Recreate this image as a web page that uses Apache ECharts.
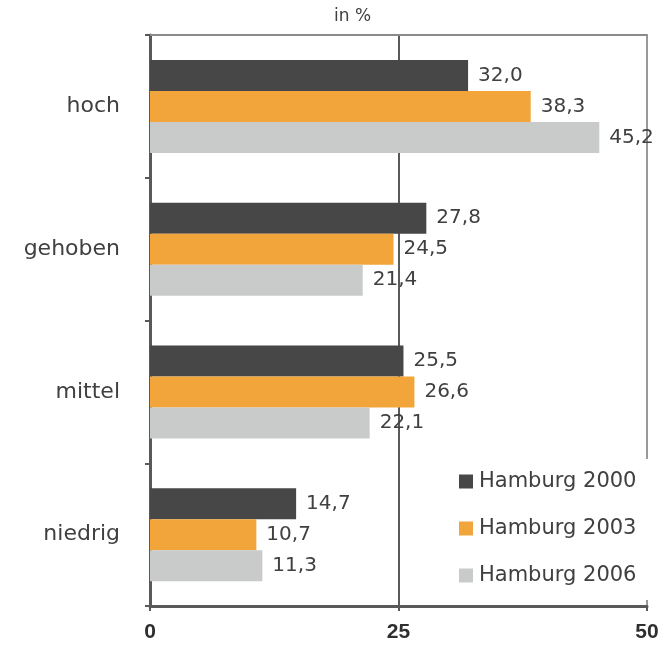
<!DOCTYPE html>
<html><head><meta charset="utf-8">
<script src="https://cdn.jsdelivr.net/npm/echarts@6/dist/echarts.min.js"></script>
<style>html,body{margin:0;padding:0;background:#fff}#c{width:671px;height:646px}</style>
</head><body><div id="c"></div>
<script>
const categories = ['hoch', 'gehoben', 'mittel', 'niedrig'];
const seriesNames = ['Hamburg 2000', 'Hamburg 2003', 'Hamburg 2006'];
const hamburg2000 = [32.0, 27.8, 25.5, 14.7];
const hamburg2003 = [38.3, 24.5, 26.6, 10.7];
const hamburg2006 = [45.2, 21.4, 22.1, 11.3];
const xTicks = [0, 25, 50];
const unitLabel = 'in %';

const colors = ['#464746', '#f1a53b', '#c9cbcb'];
const fmt = v => v.toFixed(1).replace('.', ',');
const chart = echarts.init(document.getElementById('c'));
const mk = (name, data, i) => ({
  name, type: 'bar', data, barWidth: 31, barGap: '0%',
  itemStyle: { color: colors[i] },
  label: { show: true, position: 'right', distance: 10, color: '#404040',
    fontFamily: 'DejaVu Sans', fontSize: 20, formatter: p => fmt(p.value) }
});
chart.setOption({
  animation: false,
  textStyle: { fontFamily: 'DejaVu Sans' },
  grid: { left: 150, right: 24, top: 35, bottom: 40, containLabel: false },
  graphic: [{ type: 'text', left: 334, top: 8,
    style: { text: unitLabel, fontFamily: 'DejaVu Sans', fontSize: 17, fill: '#404040' } }],
  legend: {
    orient: 'vertical', left: 445, top: 459, backgroundColor: '#fff',
    padding: [12, 14, 14, 14], itemGap: 26, itemWidth: 14, itemHeight: 14, icon: 'rect',
    textStyle: { fontFamily: 'DejaVu Sans', fontSize: 21, color: '#404040', padding: [0, 0, 0, 1] },
    data: seriesNames
  },
  xAxis: [{
    type: 'value', min: xTicks[0], max: xTicks[xTicks.length - 1], interval: 25,
    axisLine: { show: true, lineStyle: { color: '#595959', width: 3 } },
    axisTick: { show: true, length: 5, lineStyle: { color: '#595959', width: 2 } },
    axisLabel: { margin: 16, color: '#2f2f2f', fontFamily: 'Liberation Sans', fontWeight: 'bold', fontSize: 21 },
    splitLine: { show: true, lineStyle: { color: ['#595959', '#5a5a5a', '#9a9a9a'], width: 2 } }
  }, {
    type: 'value', position: 'top', min: 0, max: 50, interval: 25,
    axisLine: { show: true, lineStyle: { color: '#8a8a8a', width: 2 } },
    axisTick: { show: false }, axisLabel: { show: false }, splitLine: { show: false }
  }],
  yAxis: {
    type: 'category', data: categories, inverse: true,
    axisLine: { show: true, lineStyle: { color: '#595959', width: 3 } },
    axisTick: { show: true, length: 5, lineStyle: { color: '#595959', width: 2 } },
    axisLabel: { margin: 30, color: '#404040', fontFamily: 'DejaVu Sans', fontSize: 22 }
  },
  series: [mk(seriesNames[0], hamburg2000, 0), mk(seriesNames[1], hamburg2003, 1), mk(seriesNames[2], hamburg2006, 2)]
});
</script></body></html>
